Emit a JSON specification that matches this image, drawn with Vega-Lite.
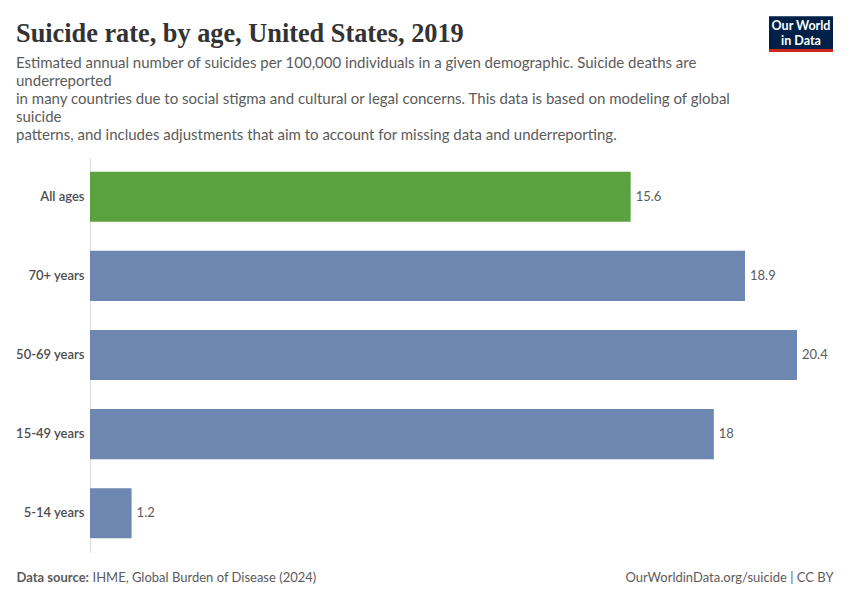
{
  "$schema": "https://vega.github.io/schema/vega-lite/v6.json",
  "width": 707,
  "height": 395,
  "autosize": "none",
  "padding": {"left": 90, "top": 157.5, "right": 53, "bottom": 47.5},
  "background": "white",
  "config": {"view": {"stroke": null}, "font": "Lato"},
  "title": {
    "text": "Suicide rate, by age, United States, 2019",
    "subtitle": [
      "Estimated annual number of suicides per 100,000 individuals in a given demographic. Suicide deaths are",
      "underreported",
      "in many countries due to social stigma and cultural or legal concerns. This data is based on modeling of global",
      "suicide",
      "patterns, and includes adjustments that aim to account for missing data and underreporting."
    ],
    "anchor": "start",
    "frame": "group",
    "dx": -74,
    "font": "Liberation Serif",
    "fontSize": 26.3,
    "fontWeight": "bold",
    "color": "#333333",
    "subtitleFont": "Lato",
    "subtitleFontSize": 15,
    "subtitleColor": "#5b5b5b",
    "subtitleLineHeight": 18,
    "subtitlePadding": 8,
    "offset": -141.5
  },
  "data": {
    "values": [
      {"age": "All ages", "rate": 15.6},
      {"age": "70+ years", "rate": 18.9},
      {"age": "50-69 years", "rate": 20.4},
      {"age": "15-49 years", "rate": 18},
      {"age": "5-14 years", "rate": 1.2}
    ]
  },
  "layer": [
    {
      "mark": {"type": "bar"},
      "encoding": {
        "y": {
          "field": "age",
          "type": "nominal",
          "sort": null,
          "scale": {"paddingInner": 0.367, "paddingOuter": 0.18},
          "axis": {
            "title": "OurWorldinData.org/suicide | CC BY",
            "titleAngle": 0,
            "titleX": 743,
            "titleY": 419.5,
            "titleAlign": "right",
            "titleBaseline": "middle",
            "titleFont": "Lato",
            "titleFontSize": 13,
            "titleFontWeight": "normal",
            "titleColor": "#5b5b5b",
            "ticks": false,
            "labelPadding": 6,
            "labelFont": "Lato",
            "labelFontSize": 13,
            "labelFontWeight": 600,
            "labelColor": "#4d4d4d",
            "domainColor": "#dddddd",
            "domainWidth": 1
          }
        },
        "x": {
          "field": "rate",
          "type": "quantitative",
          "scale": {"domain": [0, 20.4], "nice": false},
          "axis": {
            "orient": "bottom",
            "domain": false,
            "ticks": false,
            "labels": false,
            "grid": false,
            "title": "Data source:",
            "titleX": -74,
            "titleY": 24.5,
            "titleAlign": "left",
            "titleBaseline": "middle",
            "titleFont": "Lato",
            "titleFontSize": 13,
            "titleFontWeight": "bold",
            "titleColor": "#5b5b5b"
          }
        },
        "color": {
          "condition": {"test": "datum.age === 'All ages'", "value": "#5aa13f"},
          "value": "#6e87b0"
        }
      }
    },
    {
      "mark": {"type": "text", "align": "left", "baseline": "middle", "dx": 5, "font": "Lato", "fontSize": 13, "color": "#5b5b5b"},
      "encoding": {
        "y": {"field": "age", "type": "nominal", "sort": null},
        "x": {
          "field": "rate",
          "type": "quantitative",
          "axis": {
            "orient": "top",
            "domain": false,
            "ticks": false,
            "labels": false,
            "grid": false,
            "title": "IHME, Global Burden of Disease (2024)",
            "titleX": 2,
            "titleY": 419.5,
            "titleAlign": "left",
            "titleBaseline": "middle",
            "titleFont": "Lato",
            "titleFontSize": 13,
            "titleFontWeight": "normal",
            "titleColor": "#5b5b5b"
          }
        },
        "text": {"field": "rate", "type": "quantitative"}
      }
    },
    {
      "mark": {"type": "point", "opacity": 0},
      "encoding": {
        "fill": {
          "datum": "Our World in Data",
          "type": "nominal",
          "scale": {"range": ["#002147"]},
          "legend": {
            "orient": "none",
            "legendX": 679,
            "legendY": -156.5,
            "title": null,
            "padding": 0,
            "symbolType": "M-1,-0.524L1,-0.524L1,0.524L-1,0.524Z",
            "symbolSize": 4096,
            "symbolStrokeWidth": 0,
            "symbolOpacity": 1,
            "labelOffset": -32,
            "labelAlign": "center",
            "labelBaseline": "bottom",
            "labelExpr": "['Our World', 'in Data']",
            "labelFont": "Lato",
            "labelFontSize": 12.5,
            "labelFontWeight": "bold",
            "labelColor": "#ffffff"
          }
        }
      }
    },
    {
      "mark": {"type": "point", "filled": true, "color": "#ce261e", "opacity": 0},
      "encoding": {
        "shape": {
          "datum": "strip",
          "type": "nominal",
          "scale": {"range": ["M-1,-0.047L1,-0.047L1,0.047L-1,0.047Z"]},
          "legend": {
            "orient": "none",
            "legendX": 679,
            "legendY": -139,
            "title": null,
            "padding": 0,
            "symbolSize": 4096,
            "symbolFillColor": "#ce261e",
            "symbolStrokeWidth": 0,
            "symbolOpacity": 1,
            "labelExpr": "''"
          }
        }
      }
    }
  ],
  "resolve": {"axis": {"x": "independent"}}
}
